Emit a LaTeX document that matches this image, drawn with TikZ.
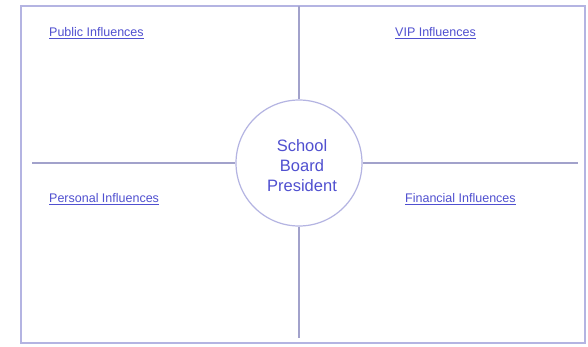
\documentclass[tikz,border=0pt]{standalone}
\usepackage{fontspec}
\setmainfont{Liberation Sans}
\definecolor{linecol}{HTML}{B4B4E2}
\definecolor{txtcol}{HTML}{5050D0}
\tikzset{
  frame/.style={draw=linecol, line width=1.2pt},
  divider/.style={draw=linecol!90!black, line width=1.3pt},
  hub/.style={circle, draw=linecol, line width=1.2pt, minimum size=126pt, inner sep=0pt, fill=white,
    align=center, text=txtcol, font=\fontsize{16.5}{20}\selectfont},
  influence/.style={anchor=west, text=txtcol, inner sep=0pt, font=\fontsize{12.5}{14}\selectfont}
}
\begin{document}
\begin{tikzpicture}[x=1pt,y=-1pt]
\useasboundingbox (0,0) rectangle (588,346);
\fill[white] (0,0) rectangle (588,346);
\draw[frame] (21,6) rectangle (585,343);
\coordinate (top) at (299,6);
\coordinate (bottom) at (299,338);
\coordinate (left) at (32,163);
\coordinate (right) at (578,163);
\node[hub] (pres) at (299,163) {};
\node[text=txtcol, align=center, font=\fontsize{16.5}{20}\selectfont] (prestext) at (302,166) {School\\Board\\President};
\draw[divider] (top) -- (pres.north);
\draw[divider] (pres.south) -- (bottom);
\draw[divider] (left) -- (pres.west);
\draw[divider] (pres.east) -- (right);
\node[influence] (pub) at (49,33) {\underline{Public Influences}};
\node[influence] (vip) at (395,33) {\underline{VIP Influences}};
\node[influence] (pers) at (49,199) {\underline{Personal Influences}};
\node[influence] (fin) at (405,199) {\underline{Financial Influences}};
\end{tikzpicture}
\end{document}
